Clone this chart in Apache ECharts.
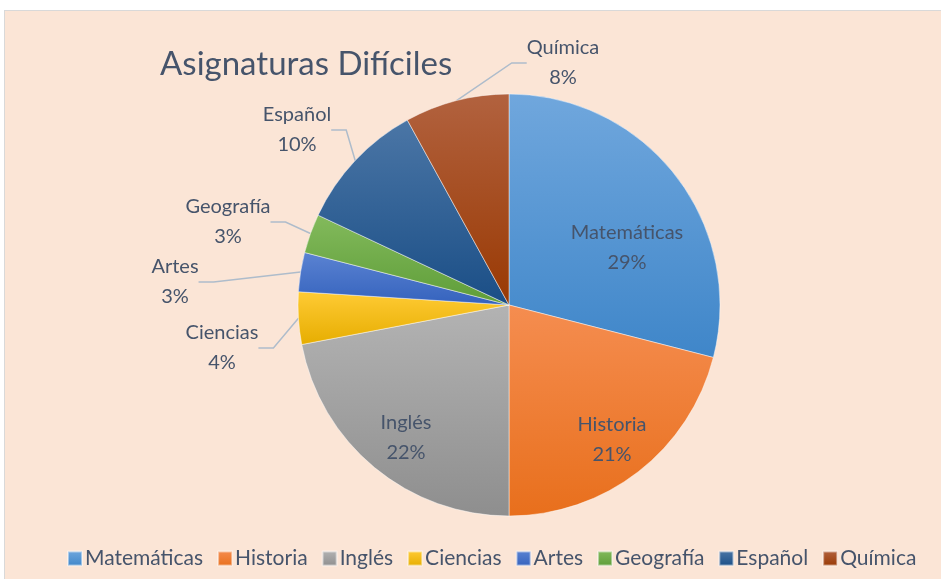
<!DOCTYPE html>
<html>
<head>
<meta charset="utf-8">
<script src="https://cdn.jsdelivr.net/npm/echarts@6/dist/echarts.min.js"></script>
<style>
  html, body { margin: 0; padding: 0; background: #fff; width: 941px; height: 579px; overflow: hidden; }
  .frame { position: absolute; left: 4px; top: 10px; width: 945px; height: 575px;
           background: #fbe5d6; border: 1px solid #d9d9d9; }
  #chart { width: 945px; height: 575px; }
</style>
</head>
<body>
<div class="frame"><div id="chart"></div></div>
<script>
// datos (porcentajes)
const subjects = ['Matemáticas', 'Historia', 'Inglés', 'Ciencias', 'Artes', 'Geografía', 'Español', 'Química']
const values = [29, 21, 22, 4, 3, 3, 10, 8]
// colores: [arriba, abajo] del degradado
const colors = [
  ['#70a7dd', '#3f86c9'],
  ['#f58d50', '#e86f1c'],
  ['#b3b3b3', '#8e8e8e'],
  ['#ffcb35', '#e6ad00'],
  ['#5b83d2', '#3462bd'],
  ['#83ba5c', '#5e9d38'],
  ['#4b76a6', '#1a4e86'],
  ['#b2623f', '#993903']
]
const insideLabels = ['Matemáticas', 'Historia', 'Inglés']
// posiciones de las etiquetas (centro del bloque de texto)
const labelPos = {
  'Matemáticas': [622, 237],
  'Historia': [607, 429],
  'Inglés': [401, 427],
  'Química': [558, 52],
  'Español': [292, 119],
  'Geografía': [223, 211],
  'Artes': [170, 271],
  'Ciencias': [217, 337]
}

const textColor = '#46546b'
const font = 'Lato, "Open Sans", sans-serif'

const chart = echarts.init(document.getElementById('chart'))

const gradient = i => new echarts.graphic.LinearGradient(0, 0, 0, 1, [
  { offset: 0, color: colors[i][0] },
  { offset: 1, color: colors[i][1] }
])

const data = subjects.map((name, i) => {
  const item = { name: name, value: values[i], itemStyle: { color: gradient(i) } }
  if (insideLabels.indexOf(name) >= 0) {
    item.label = { position: 'inside' }
    item.labelLine = { show: false }
  }
  return item
})

chart.setOption({
  animation: false,
  title: {
    text: 'Asignaturas Difíciles',
    left: 150,
    top: 32,
    textStyle: { color: textColor, fontSize: 33, fontWeight: 'normal', fontFamily: font }
  },
  legend: {
    bottom: 12,
    left: 57,
    itemWidth: 14,
    itemHeight: 14,
    itemGap: 14,
    icon: 'rect',
    textStyle: { color: textColor, fontSize: 21, fontFamily: font, padding: [0, 0, 0, -2] },
    data: subjects.map((name, i) => ({ name: name, itemStyle: { color: gradient(i) } }))
  },
  series: [{
    type: 'pie',
    center: [504, 294],
    radius: [0, 211],
    startAngle: 90,
    clockwise: true,
    itemStyle: { borderColor: 'rgba(255,255,255,0.45)', borderWidth: 1 },
    label: {
      show: true,
      position: 'outside',
      formatter: '{b}\n{d}%',
      color: textColor,
      fontSize: 20,
      lineHeight: 30,
      fontFamily: font,
      align: 'center'
    },
    labelLine: {
      show: true,
      length: 15,
      length2: 15,
      lineStyle: { color: '#aebccb', width: 1.5 }
    },
    labelLayout: function (params) {
      const p = labelPos[subjects[params.dataIndex]]
      if (!p) return {}
      return { x: p[0], y: p[1], align: 'center', verticalAlign: 'middle' }
    },
    data: data
  }]
})
</script>
</body>
</html>
